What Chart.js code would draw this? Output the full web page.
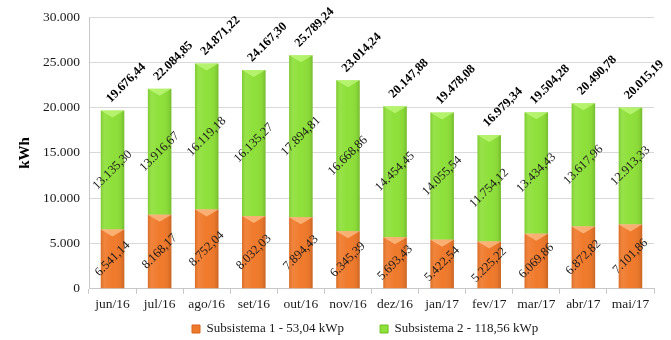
<!DOCTYPE html>
<html>
<head>
<meta charset="utf-8">
<script src="https://cdn.jsdelivr.net/npm/chart.js@4/dist/chart.umd.min.js"></script>
<style>
  html, body { margin: 0; padding: 0; background: #ffffff; }
  #wrap { width: 671px; height: 340px; }
</style>
</head>
<body>
<div id="wrap"><canvas id="c" width="671" height="340"></canvas></div>
<script>
// Monthly energy generation (kWh) per subsystem
const months = ['jun/16', 'jul/16', 'ago/16', 'set/16', 'out/16', 'nov/16',
                'dez/16', 'jan/17', 'fev/17', 'mar/17', 'abr/17', 'mai/17'];
const subsistema1 = [6541.14, 8168.17, 8752.04, 8032.03, 7894.43, 6345.39,
                     5693.43, 5422.54, 5225.22, 6069.86, 6872.82, 7101.86];
const subsistema2 = [13135.30, 13916.67, 16119.18, 16135.27, 17894.81, 16668.86,
                     14454.45, 14055.54, 11754.12, 13434.43, 13617.96, 12913.33];
const totals = [19676.44, 22084.85, 24871.22, 24167.30, 25789.24, 23014.24,
                20147.88, 19478.08, 16979.34, 19504.28, 20490.78, 20015.19];
const seriesNames = ['Subsistema 1 - 53,04 kWp', 'Subsistema 2 - 118,56 kWp'];

const SERIF = '"Liberation Serif", "Times New Roman", serif';
const ORANGE = '#F07A2C';
const GREEN = '#8EE03A';
const BEVEL = ['rgba(255,205,150,0.65)', 'rgba(205,255,140,0.6)'];

// Brazilian number format: 19.676,44
function fmtBR(v, dec) {
  const s = Number(v).toFixed(dec);
  const parts = s.split('.');
  const intPart = parts[0].replace(/\B(?=(\d{3})+(?!\d))/g, '.');
  return parts[1] ? intPart + ',' + parts[1] : intPart;
}

// Cylinder-like shading and top bevel on every bar
const barShading = {
  id: 'barShading',
  afterDatasetsDraw(chart) {
    const ctx = chart.ctx;
    chart.data.datasets.forEach((ds, di) => {
      const meta = chart.getDatasetMeta(di);
      meta.data.forEach((bar) => {
        const left = bar.x - bar.width / 2;
        const right = bar.x + bar.width / 2;
        const top = Math.min(bar.y, bar.base);
        const bottom = Math.max(bar.y, bar.base);
        ctx.save();
        const g = ctx.createLinearGradient(left, 0, right, 0);
        g.addColorStop(0, 'rgba(0,0,0,0.10)');
        g.addColorStop(0.15, 'rgba(255,255,255,0.08)');
        g.addColorStop(0.5, 'rgba(255,255,255,0.0)');
        g.addColorStop(0.85, 'rgba(0,0,0,0.04)');
        g.addColorStop(1, 'rgba(0,0,0,0.16)');
        ctx.fillStyle = g;
        ctx.fillRect(left, top, right - left, bottom - top);
        // top bevel
        const h = Math.min(7, (bottom - top) / 2);
        ctx.beginPath();
        ctx.moveTo(left, top);
        ctx.lineTo(right, top);
        ctx.lineTo(bar.x, top + h);
        ctx.closePath();
        ctx.fillStyle = BEVEL[di];
        ctx.fill();
        ctx.restore();
      });
    });
  }
};

// Rotated value labels: segment values inside, totals above
const valueLabels = {
  id: 'valueLabels',
  afterDatasetsDraw(chart) {
    const ctx = chart.ctx;
    const metas = [chart.getDatasetMeta(0), chart.getDatasetMeta(1)];
    const values = [subsistema1, subsistema2];
    ctx.save();
    metas.forEach((meta, di) => {
      meta.data.forEach((bar, i) => {
        const cy = (bar.y + bar.base) / 2;
        ctx.save();
        ctx.translate(bar.x, cy);
        ctx.rotate(-Math.PI / 4);
        ctx.font = '12.5px ' + SERIF;
        ctx.fillStyle = '#1a1a1a';
        ctx.textAlign = 'center';
        ctx.textBaseline = 'middle';
        ctx.fillText(fmtBR(values[di][i], 2), 0, 0);
        ctx.restore();
      });
    });
    metas[1].data.forEach((bar, i) => {
      ctx.save();
      ctx.translate(bar.x - 4, bar.y - 10);
      ctx.rotate(-Math.PI / 4);
      ctx.font = 'bold 12.5px ' + SERIF;
      ctx.fillStyle = '#000000';
      ctx.textAlign = 'left';
      ctx.textBaseline = 'middle';
      ctx.fillText(fmtBR(totals[i], 2), 0, 0);
      ctx.restore();
    });
    ctx.restore();
  }
};

// Place the legend row: first swatch at x=192, text centred on y=329
const LEGEND_X = 192;
const LEGEND_Y = 329;
const legendPlacement = {
  id: 'legendPlacement',
  afterLayout(chart) {
    const lg = chart.legend;
    if (!lg || !lg.lineWidths) return;
    const pad = lg.options.labels.padding;
    const itemH = Math.max(lg.options.labels.boxHeight, lg.options.labels.font.size);
    const start = (lg.left + pad + lg.right - lg.lineWidths[0]) / 2;
    const dx = LEGEND_X - start;
    lg.left += dx;
    lg.right += dx;
    lg.top = LEGEND_Y - pad - itemH / 2;
  }
};

new Chart(document.getElementById('c'), {
  type: 'bar',
  data: {
    labels: months,
    datasets: [
      { label: seriesNames[0], data: subsistema1, backgroundColor: ORANGE,
        borderColor: '#D8651C', borderWidth: 0 },
      { label: seriesNames[1], data: subsistema2, backgroundColor: GREEN,
        borderColor: '#6EC020', borderWidth: 0 }
    ]
  },
  options: {
    responsive: false,
    animation: false,
    devicePixelRatio: 1,
    barPercentage: 0.5,
    categoryPercentage: 1.0,
    layout: { padding: { left: 0, right: 17, top: 10, bottom: 0 } },
    plugins: {
      tooltip: { enabled: false },
      legend: {
        position: 'bottom',
        maxHeight: 24,
        labels: {
          font: { family: SERIF, size: 13 },
          color: '#1a1a1a',
          boxWidth: 8,
          boxHeight: 8,
          padding: 36,
          generateLabels(chart) {
            return chart.data.datasets.map((ds, i) => ({
              text: ds.label,
              fillStyle: ds.backgroundColor,
              strokeStyle: ds.borderColor,
              lineWidth: 1,
              datasetIndex: i,
              fontColor: '#1a1a1a'
            }));
          }
        }
      }
    },
    scales: {
      x: {
        stacked: true,
        grid: { display: true, drawOnChartArea: false, drawTicks: true, tickLength: 5, color: '#c8c8c8', offset: true },
        border: { display: true, color: '#c8c8c8' },
        ticks: { font: { family: SERIF, size: 13.5 }, color: '#1a1a1a', padding: 3, maxRotation: 0 }
      },
      y: {
        stacked: true,
        min: 0,
        max: 30000,
        afterFit(scale) { scale.width = 89; },
        grid: { color: '#d9d9d9', drawTicks: false },
        border: { display: true, color: '#c8c8c8' },
        ticks: {
          stepSize: 5000,
          padding: 9,
          font: { family: SERIF, size: 13.5 },
          color: '#1a1a1a',
          callback: (v) => fmtBR(v, 0)
        },
        title: {
          display: true,
          text: 'kWh',
          font: { family: SERIF, size: 15, weight: 'bold' },
          color: '#000000',
          padding: { top: 16, bottom: 0 }
        }
      }
    }
  },
  plugins: [barShading, valueLabels, legendPlacement]
});
</script>
</body>
</html>
